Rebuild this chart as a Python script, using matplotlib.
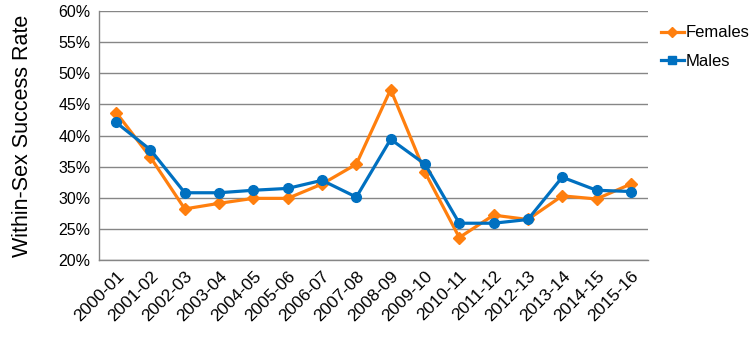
import matplotlib
matplotlib.use("Agg")
from matplotlib import pyplot as plt
from matplotlib.lines import Line2D
from matplotlib.ticker import FuncFormatter

plt.rcParams['font.family'] = ['Liberation Sans', 'DejaVu Sans']

years = ['2000-01', '2001-02', '2002-03', '2003-04', '2004-05', '2005-06',
         '2006-07', '2007-08', '2008-09', '2009-10', '2010-11', '2011-12',
         '2012-13', '2013-14', '2014-15', '2015-16']
females = [43.7, 36.5, 28.2, 29.1, 29.9, 29.9, 32.2, 35.4, 47.4, 34.1,
           23.6, 27.2, 26.5, 30.3, 29.8, 32.2]
males = [42.1, 37.7, 30.8, 30.8, 31.2, 31.5, 32.8, 30.1, 39.4, 35.4,
         25.9, 25.9, 26.5, 33.3, 31.2, 31.0]

orange = '#FF7F0E'
blue = '#0070C0'

fig = plt.figure(figsize=(7.5, 3.38), dpi=100)
ax = fig.add_axes([0.132, 0.231, 0.732, 0.736])

x = list(range(len(years)))
ax.plot(x, females, color=orange, lw=2.3, marker='D', ms=6, zorder=3)
ax.plot(x, males, color=blue, lw=2.3, marker='o', ms=7, zorder=4)

ax.set_xlim(-0.5, len(years) - 0.5)
ax.set_ylim(20, 60)
ax.set_yticks(range(20, 61, 5))
ax.yaxis.set_major_formatter(FuncFormatter(lambda v, p: f'{v:.0f}%'))
ax.set_xticks(x)
ax.set_xticklabels(years, rotation=45, ha='right', rotation_mode='anchor')
ax.tick_params(axis='both', length=0)
ax.tick_params(axis='y', pad=6, labelsize=11.5)
ax.tick_params(axis='x', pad=6, labelsize=12.5)

ax.grid(axis='y', color='#868686', lw=1)
ax.set_axisbelow(True)
for s in ['top', 'right']:
    ax.spines[s].set_visible(False)
for s in ['left', 'bottom']:
    ax.spines[s].set_color('#868686')
    ax.spines[s].set_linewidth(1)

ax.set_ylabel('Within-Sex Success Rate', fontsize=15.5, labelpad=18)

handles = [Line2D([], [], color=orange, lw=2.3, marker='D', ms=5),
           Line2D([], [], color=blue, lw=2.3, marker='s', ms=6)]
fig.legend(handles, ['Females', 'Males'], loc='upper left',
           bbox_to_anchor=(0.881, 0.925), frameon=False, fontsize=12,
           borderpad=0, borderaxespad=0, handlelength=1.4,
           handletextpad=0.1, labelspacing=0.8)

fig.savefig('out.png', dpi=100)
